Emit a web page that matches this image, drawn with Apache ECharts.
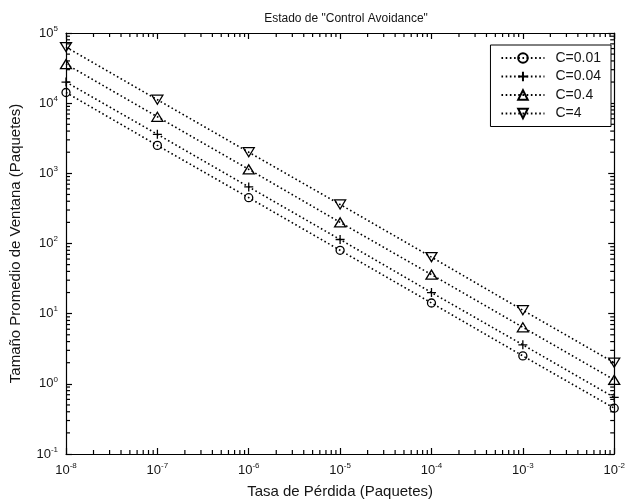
<!DOCTYPE html>
<html>
<head>
<meta charset="utf-8">
<script src="https://cdn.jsdelivr.net/npm/echarts@6/dist/echarts.min.js"></script>
<style>
  html, body { margin: 0; padding: 0; background: #fff; }
  #chart { width: 628px; height: 504px; }
</style>
</head>
<body>
<div id="chart"></div>
<script>
// Loss rate (packets) at which each window size was evaluated
const lossRates = [1e-8, 1e-7, 1e-6, 1e-5, 1e-4, 1e-3, 1e-2];
const seriesNames = ['C=0.01', 'C=0.04', 'C=0.4', 'C=4'];
// Average window size (packets) for each constant C
const winC001 = [1.42e4, 2.5e3, 4.5e2, 80, 14.2, 2.5, 0.45];
const winC004 = [2.0e4, 3.6e3, 6.4e2, 114, 20, 3.6, 0.64];
const winC04  = [3.6e4, 6.4e3, 1.14e3, 200, 36, 6.4, 1.14];
const winC4   = [6.3e4, 1.12e4, 2.0e3, 360, 64, 11.2, 2.0];
// Decade exponents shown on each axis
const xExpRange = [-8, -2];
const yExpRange = [-1, 5];

const FONT = '"Liberation Sans", Arial, Helvetica, sans-serif';
const INK = '#151515';
const xMin = Math.pow(10, xExpRange[0]), xMax = Math.pow(10, xExpRange[1]);
const yMin = Math.pow(10, yExpRange[0]), yMax = Math.pow(10, yExpRange[1]);

// Minor tick values (2..9 times each decade)
function minorTicks(range) {
  const out = [];
  for (let e = range[0]; e < range[1]; e++) {
    for (let k = 2; k <= 9; k++) out.push(k * Math.pow(10, e));
  }
  return out;
}

const powerLabel = {
  color: INK,
  fontFamily: FONT,
  margin: 8,
  formatter: v => '{b|10}{s|' + Math.round(Math.log10(v)) + '}',
  rich: {
    b: { fontSize: 13, fontFamily: FONT, color: INK, lineHeight: 17 },
    s: { fontSize: 8, fontFamily: FONT, color: INK, lineHeight: 17, verticalAlign: 'top', padding: [0, 0, 7, 0] }
  }
};

const frame = { color: '#000', width: 1.2 };
const MAJOR_LEN = 6;
const MINOR_LEN = 4;

// Decade axes: frame, major ticks and labels
function logAxis(pos, range, withLabels, extra) {
  return Object.assign({
    type: 'log',
    logBase: 10,
    min: Math.pow(10, range[0]),
    max: Math.pow(10, range[1]),
    splitNumber: range[1] - range[0],
    position: pos,
    axisLine: { show: true, onZero: false, lineStyle: frame },
    axisTick: { show: true, inside: true, length: MAJOR_LEN, lineStyle: frame },
    axisLabel: withLabels ? powerLabel : { show: false },
    splitLine: { show: false },
    minorTick: { show: false }
  }, extra || {});
}

// Short inward minor ticks on both opposite frame edges, placed through the axis scales
function minorTickSeries(dim, values) {
  return {
    type: 'custom',
    silent: true,
    clip: false,
    xAxisIndex: 0,
    yAxisIndex: 0,
    z: 3,
    data: values.map(v => (dim === 'x' ? [v, yMin] : [xMin, v])),
    renderItem: function (params, api) {
      const v = api.value(dim === 'x' ? 0 : 1);
      let a, b, segs;
      if (dim === 'x') {
        a = api.coord([v, yMin]);
        b = api.coord([v, yMax]);
        segs = [[a[0], a[1], a[0], a[1] - MINOR_LEN], [b[0], b[1], b[0], b[1] + MINOR_LEN]];
      } else {
        a = api.coord([xMin, v]);
        b = api.coord([xMax, v]);
        segs = [[a[0], a[1], a[0] + MINOR_LEN, a[1]], [b[0], b[1], b[0] - MINOR_LEN, b[1]]];
      }
      return {
        type: 'group',
        children: segs.map(s => ({
          type: 'line',
          shape: { x1: s[0], y1: s[1], x2: s[2], y2: s[3] },
          style: { stroke: '#000', lineWidth: 1.2 }
        }))
      };
    }
  };
}

function pairs(values) {
  return lossRates.map((x, i) => [x, values[i]]);
}

const symbols = [
  { symbol: 'circle', size: 8 },
  { symbol: 'path://M0 5 L10 5 M5 0 L5 10', size: 9 },
  { symbol: 'path://M5 0 L10 9 L0 9 Z', size: [11, 10] },
  { symbol: 'path://M0 0 L10 0 L5 9 Z', size: [11, 10] }
];
const seriesValues = [winC001, winC004, winC04, winC4];

const dataSeries = seriesNames.map((name, i) => ({
  name: name,
  type: 'line',
  xAxisIndex: 0,
  yAxisIndex: 0,
  data: pairs(seriesValues[i]),
  symbol: symbols[i].symbol,
  symbolSize: symbols[i].size,
  symbolKeepAspect: true,
  showAllSymbol: true,
  lineStyle: { color: '#000', width: 1.6, type: [1.6, 2.6] },
  itemStyle: { color: 'rgba(0,0,0,0)', borderColor: '#000', borderWidth: 1.3 },
  emphasis: { disabled: true }
}));

const chart = echarts.init(document.getElementById('chart'), null, { renderer: 'canvas' });
chart.setOption({
  animation: false,
  backgroundColor: '#fff',
  title: {
    text: 'Estado de "Control Avoidance"',
    left: 341, top: 8, textAlign: 'center',
    textStyle: { fontSize: 12, fontWeight: 'normal', color: INK, fontFamily: FONT }
  },
  grid: { left: 66, right: 11, top: 33, bottom: 49.5, containLabel: false },
  legend: {
    orient: 'vertical',
    right: 17, top: 45,
    data: seriesNames,
    backgroundColor: '#fff',
    borderColor: '#000', borderWidth: 1,
    padding: [6, 10, 6, 10],
    itemWidth: 43, itemHeight: 12, itemGap: 4.5,
    textStyle: { fontSize: 14, lineHeight: 14, color: INK, fontFamily: FONT, padding: [0, 0, 0, 6] }
  },
  xAxis: [
    logAxis('bottom', xExpRange, true, {
      name: 'Tasa de Pérdida (Paquetes)',
      nameLocation: 'middle', nameGap: 30,
      nameTextStyle: { fontSize: 15, color: INK, fontFamily: FONT }
    }),
    logAxis('top', xExpRange, false)
  ],
  yAxis: [
    logAxis('left', yExpRange, true, {
      name: 'Tamaño Promedio de Ventana (Paquetes)',
      nameLocation: 'middle', nameGap: 43,
      nameTextStyle: { fontSize: 15, color: INK, fontFamily: FONT }
    }),
    logAxis('right', yExpRange, false)
  ],
  series: [
    minorTickSeries('x', minorTicks(xExpRange)),
    minorTickSeries('y', minorTicks(yExpRange))
  ].concat(dataSeries)
});
</script>
</body>
</html>
